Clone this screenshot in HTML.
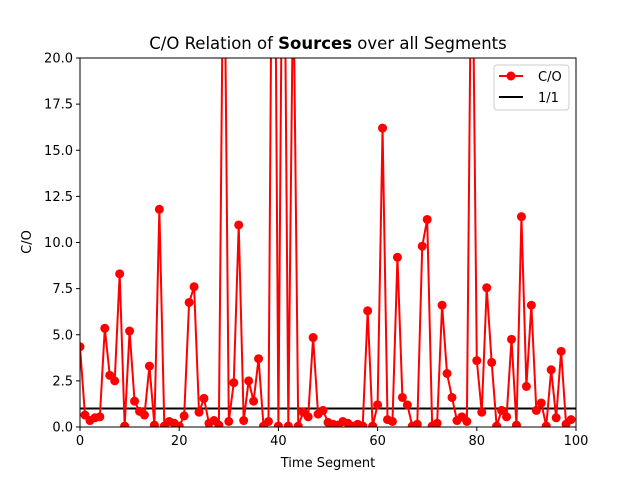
<!DOCTYPE html>
<html><head><meta charset="utf-8"><style>
html,body{margin:0;padding:0;background:#fff;}
svg{display:block;font-family:"DejaVu Sans","Liberation Sans",sans-serif;}
</style></head><body>
<svg id="chart" width="640" height="480">
<rect width="640" height="480" fill="#fff"/>
<text x="328" y="49" text-anchor="middle" font-size="16.5">C/O Relation of <tspan font-weight="bold">Sources</tspan> over all Segments</text>
<defs><clipPath id="clip"><rect x="80" y="58" width="496" height="369"/></clipPath></defs>
<g id="series" clip-path="url(#clip)"></g>
<g id="axes"></g>
<text x="328" y="467" text-anchor="middle" font-size="13">Time Segment</text>
<text x="0" y="0" transform="translate(31,242) rotate(-90)" text-anchor="middle" font-size="13">C/O</text>
<g>
<rect x="494" y="65" width="75" height="45" rx="3" fill="#fff" fill-opacity="0.8" stroke="#ccc"/>
<g>
<line x1="499" y1="76" x2="523" y2="76" stroke="#f00" stroke-width="2"/>
<circle cx="511" cy="76" r="4.5" fill="#f00"/>
<text x="538" y="81" font-size="13">C/O</text></g>
<g>
<line x1="499" y1="97" x2="523" y2="97" stroke="#000" stroke-width="2"/>
<text x="538" y="102" font-size="13">1/1</text></g>
</g>
</svg>
<script>
const segments = Array.from({length:100},(_, i)=>i);
const coValues = [4.35,0.65,0.35,0.5,0.55,5.35,2.8,2.5,8.3,0.05,
5.2,1.4,0.85,0.65,3.3,0.1,11.8,0.05,0.3,0.2,
0.05,0.6,6.75,7.6,0.8,1.55,0.2,0.35,0.1,30,
0.3,2.4,10.95,0.35,2.5,1.4,3.7,0.05,0.3,40,
0.05,35,0.05,25,0.05,0.8,0.55,4.85,0.7,0.9,
0.25,0.15,0.1,0.3,0.2,0.05,0.15,0.05,6.3,0.05,
1.2,16.2,0.4,0.3,9.2,1.6,1.2,0.05,0.15,9.8,
11.25,0.05,0.2,6.6,2.9,1.6,0.35,0.55,0.3,30,
3.6,0.8,7.55,3.5,0.05,0.9,0.55,4.75,0.1,11.4,
2.2,6.6,0.9,1.3,0.05,3.1,0.5,4.1,0.15,0.4];
const refValue = 1;
const xTicks = [0,20,40,60,80,100];
const yTicks = [0,2.5,5,7.5,10,12.5,15,17.5,20];
const yTickLabels = ["0.0","2.5","5.0","7.5","10.0","12.5","15.0","17.5","20.0"];

const NS="http://www.w3.org/2000/svg";
const X0=80,X1=576,Y0=427,Y1=58;
const xs=v=>X0+(v-0)/(100-0)*(X1-X0);
const ys=v=>Y0-(v-0)/(20-0)*(Y0-Y1);
const series=document.getElementById('series');
const axes=document.getElementById('axes');
function mk(tag,attrs,parent){const e=document.createElementNS(NS,tag);for(const k in attrs)e.setAttribute(k,attrs[k]);parent.appendChild(e);return e;}

const ref=mk('line',{x1:X0,x2:X1,y1:ys(refValue),y2:ys(refValue),stroke:'#000','stroke-width':2},series);



const pts=segments.map((s,i)=>xs(s)+','+ys(coValues[i])).join(' ');
const pl=mk('polyline',{points:pts,fill:'none',stroke:'#f00','stroke-width':2,'stroke-linejoin':'round'},series);


segments.forEach((s,i)=>{
  const c=mk('circle',{cx:xs(s),cy:ys(coValues[i]),r:4.5,fill:'#f00'},series);
  
  
});

const frame=mk('rect',{x:X0,y:Y1,width:X1-X0,height:Y0-Y1,fill:'none',stroke:'#000','stroke-width':1},axes);


xTicks.forEach(t=>{
  const l=mk('line',{x1:xs(t),x2:xs(t),y1:Y0,y2:Y0+4,stroke:'#000'},axes);
  
  
  const tx=mk('text',{x:xs(t),y:Y0+18,'text-anchor':'middle','font-size':13},axes);
  tx.textContent=String(t);
  
  
});
yTicks.forEach((t,i)=>{
  const l=mk('line',{x1:X0-4,x2:X0,y1:ys(t),y2:ys(t),stroke:'#000'},axes);
  
  
  const tx=mk('text',{x:X0-7,y:ys(t)+4.5,'text-anchor':'end','font-size':13},axes);
  tx.textContent=yTickLabels[i];
  
  
});
</script>
</body></html>
